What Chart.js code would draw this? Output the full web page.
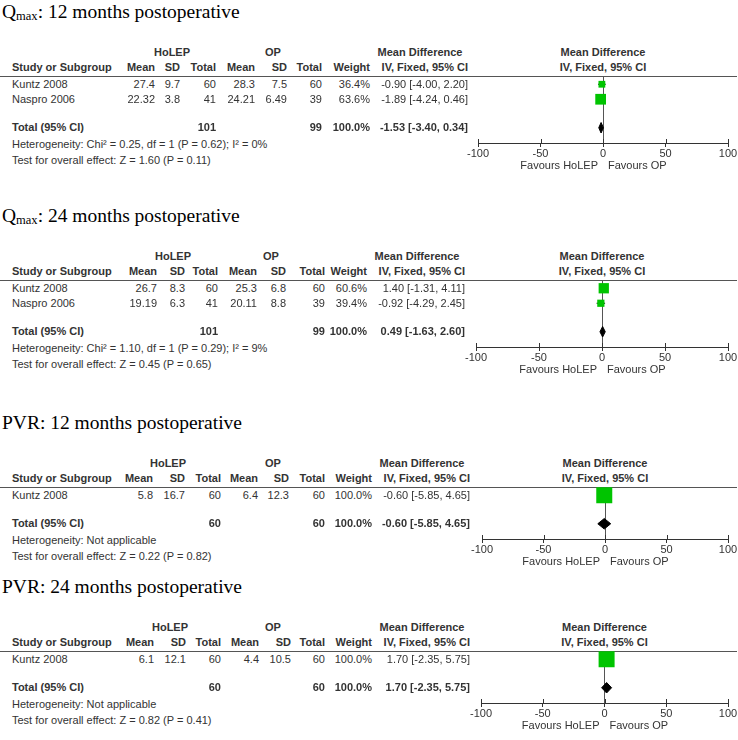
<!DOCTYPE html>
<html>
<head>
<meta charset="utf-8">
<script src="https://cdn.jsdelivr.net/npm/chart.js@4.4.0/dist/chart.umd.min.js"></script>
<style>
body{margin:0;background:#fff;width:738px;height:740px;overflow:hidden;position:relative;font-family:"Liberation Sans",Arial,sans-serif;}
.t{position:absolute;font-size:11px;color:#333;white-space:nowrap;line-height:13px;}
.b{font-weight:bold;}
.title{position:absolute;font-family:"Liberation Serif","Times New Roman",serif;font-size:19.5px;color:#000;white-space:nowrap;line-height:22px;}
.title sub{font-size:12.5px;vertical-align:-2px;line-height:0;}
.hline{position:absolute;left:0;width:737px;height:1px;background:#555;}
canvas{position:absolute;}
</style>
</head>
<body>
<script>
// data
const panelTitles = ['Q<sub>max</sub>: 12 months postoperative', 'Q<sub>max</sub>: 24 months postoperative',
                     'PVR: 12 months postoperative', 'PVR: 24 months postoperative'];
const studyNames = [['Kuntz 2008', 'Naspro 2006'], ['Kuntz 2008', 'Naspro 2006'], ['Kuntz 2008'], ['Kuntz 2008']];
const holepMean = [[27.4, 22.32], [26.7, 19.19], [5.8], [6.1]];
const holepSD = [[9.7, 3.8], [8.3, 6.3], [16.7], [12.1]];
const holepN = [[60, 41], [60, 41], [60], [60]];
const opMean = [[28.3, 24.21], [25.3, 20.11], [6.4], [4.4]];
const opSD = [[7.5, 6.49], [6.8, 8.8], [12.3], [10.5]];
const opN = [[60, 39], [60, 39], [60], [60]];
const weights = [[36.4, 63.6], [60.6, 39.4], [100.0], [100.0]];
const meanDiff = [[-0.90, -1.89], [1.40, -0.92], [-0.60], [1.70]];
const ciLow = [[-4.00, -4.24], [-1.31, -4.29], [-5.85], [-2.35]];
const ciHigh = [[2.20, 0.46], [4.11, 2.45], [4.65], [5.75]];
const totalHolepN = [101, 101, 60, 60];
const totalOpN = [99, 99, 60, 60];
const totalMD = [-1.53, 0.49, -0.60, 1.70];
const totalLow = [-3.40, -1.63, -5.85, -2.35];
const totalHigh = [0.34, 2.60, 4.65, 5.75];
const heterogeneity = ['Heterogeneity: Chi² = 0.25, df = 1 (P = 0.62); I² = 0%',
                       'Heterogeneity: Chi² = 1.10, df = 1 (P = 0.29); I² = 9%',
                       'Heterogeneity: Not applicable', 'Heterogeneity: Not applicable'];
const overallEffect = ['Test for overall effect: Z = 1.60 (P = 0.11)', 'Test for overall effect: Z = 0.45 (P = 0.65)',
                       'Test for overall effect: Z = 0.22 (P = 0.82)', 'Test for overall effect: Z = 0.82 (P = 0.41)'];
const xTicks = [-100, -50, 0, 50, 100];
const favourLabels = ['Favours HoLEP', 'Favours OP'];

// layout
const lineY = [76, 280, 487, 651];
const colRight = [[155, 180, 216, 255, 287, 322, 370], [157, 185, 218, 257, 286, 325, 367],
                  [153, 185, 221, 258, 289, 325, 372], [154, 186, 221, 259, 291, 325, 372]];
const groupCenter = [[172, 273], [173, 271], [168, 273], [170, 273]];
const mdRight = [468, 465, 470, 470];
const plotLeft = [478, 476, 482, 481];
const plotRight = 728;
const ROW = 15;
const GREEN = '#00c400';
const INK = '#333';

function txt(s, x, y, align, bold) {
  const d = document.createElement('div');
  d.className = 't' + (bold ? ' b' : '');
  d.textContent = s;
  d.style.left = x + 'px';
  d.style.top = (y - 6.5) + 'px';
  if (align === 'right') d.style.transform = 'translateX(-100%)';
  if (align === 'center') d.style.transform = 'translateX(-50%)';
  document.body.appendChild(d);
}

function ci(md, lo, hi) {
  return md.toFixed(2) + ' [' + lo.toFixed(2) + ', ' + hi.toFixed(2) + ']';
}

const axisExtras = {
  id: 'axisExtras',
  afterDraw(chart) {
    const {ctx, chartArea} = chart;
    const x = chart.scales.x;
    const y0 = chartArea.bottom;
    ctx.save();
    ctx.strokeStyle = INK;
    ctx.lineWidth = 1;
    x.ticks.forEach(t => {
      const px = Math.round(x.getPixelForValue(t.value)) + 0.5;
      ctx.beginPath();
      ctx.moveTo(px, y0 - 4);
      ctx.lineTo(px, y0);
      ctx.stroke();
    });
    ctx.font = '11px "Liberation Sans", Arial, sans-serif';
    ctx.fillStyle = INK;
    ctx.textBaseline = 'middle';
    const zx = x.getPixelForValue(0);
    ctx.textAlign = 'right';
    ctx.fillText(favourLabels[0], zx - 5, y0 + 23);
    ctx.textAlign = 'left';
    ctx.fillText(favourLabels[1], zx + 5, y0 + 23);
    ctx.restore();
  }
};

for (let p = 0; p < 4; p++) {
  const L = lineY[p];
  const n = studyNames[p].length;
  const rows = studyNames[p].map((_, k) => 0.55 + k);
  const totalRow = 0.55 + n + 0.9;
  const totalY = L + totalRow * ROW;
  const axisY = Math.round(totalY + 15);

  // title
  const t = document.createElement('div');
  t.className = 'title';
  t.innerHTML = panelTitles[p];
  t.style.left = '2px';
  t.style.top = (L - 64 - 11) + 'px';
  document.body.appendChild(t);

  const line = document.createElement('div');
  line.className = 'hline';
  line.style.top = L + 'px';
  document.body.appendChild(line);

  // chart
  const cv = document.createElement('canvas');
  const padL = 20, padR = 12, axisH = 18, padB = 16;
  const W = plotRight - plotLeft[p] + padL + padR;
  const H = (axisY - L) + axisH + padB;
  cv.width = W; cv.height = H;
  cv.style.left = (plotLeft[p] - padL) + 'px';
  cv.style.top = L + 'px';
  cv.style.width = W + 'px';
  cv.style.height = H + 'px';
  document.body.appendChild(cv);

  const datasets = [];
  datasets.push({
    type: 'scatter',
    data: meanDiff[p].map((v, k) => ({x: v, y: rows[k]})),
    pointStyle: 'rect',
    pointRadius: weights[p].map(w => (1.5 + 14.5 * w / 100) / Math.SQRT2),
    backgroundColor: GREEN,
    borderWidth: 0,
    order: 0
  });
  meanDiff[p].forEach((v, k) => {
    datasets.push({
      type: 'line',
      data: [{x: ciLow[p][k], y: rows[k]}, {x: ciHigh[p][k], y: rows[k]}],
      borderColor: '#000', borderWidth: 1, pointRadius: 0, order: 1
    });
  });
  const h = 0.35;
  datasets.push({
    type: 'line',
    data: [{x: totalLow[p], y: totalRow}, {x: totalMD[p], y: totalRow - h},
           {x: totalHigh[p], y: totalRow}, {x: totalMD[p], y: totalRow + h},
           {x: totalLow[p], y: totalRow}],
    borderColor: '#000', backgroundColor: '#000', borderWidth: 1,
    pointRadius: 0, fill: 'shape', tension: 0, order: 2
  });

  const chart = new Chart(cv, {
    data: {datasets},
    options: {
      responsive: false,
      animation: false,
      devicePixelRatio: 1,
      layout: {autoPadding: false, padding: {left: padL, right: padR, top: 0, bottom: padB}},
      plugins: {legend: {display: false}, tooltip: {enabled: false}},
      scales: {
        x: {
          type: 'linear', min: -100, max: 100,
          afterBuildTicks: s => { s.ticks = xTicks.map(v => ({value: v})); },
          afterFit: s => { s.height = axisH; },
          ticks: {color: INK, padding: 0, font: {size: 11, family: '"Liberation Sans", Arial, sans-serif'}},
          grid: {
            color: c => (c.tick && c.tick.value === 0) ? '#555' : 'rgba(0,0,0,0)',
            tickColor: INK, tickLength: 4, drawOnChartArea: true
          },
          border: {display: true, color: INK, width: 1}
        },
        y: {type: 'linear', display: false, reverse: true, min: 0, max: (axisY - L) / ROW}
      }
    },
    plugins: [axisExtras]
  });

  const zeroX = plotLeft[p] - padL + chart.scales.x.getPixelForValue(0);
  const c = colRight[p];

  // headers
  const h1 = L - 24, h2 = L - 8.5;
  txt('HoLEP', groupCenter[p][0], h1, 'center', true);
  txt('OP', groupCenter[p][1], h1, 'center', true);
  txt('Mean Difference', mdRight[p] - 48, h1, 'center', true);
  txt('Mean Difference', zeroX, h1, 'center', true);
  txt('Study or Subgroup', 12, h2, 'left', true);
  ['Mean', 'SD', 'Total', 'Mean', 'SD', 'Total', 'Weight'].forEach((s, i) => txt(s, c[i], h2, 'right', true));
  txt('IV, Fixed, 95% CI', mdRight[p], h2, 'right', true);
  txt('IV, Fixed, 95% CI', zeroX, h2, 'center', true);

  // study rows
  studyNames[p].forEach((s, k) => {
    const y = L + rows[k] * ROW;
    txt(s, 12, y, 'left');
    [holepMean, holepSD, holepN, opMean, opSD, opN].forEach((arr, i) => txt(String(arr[p][k]), c[i], y, 'right'));
    txt(weights[p][k].toFixed(1) + '%', c[6], y, 'right');
    txt(ci(meanDiff[p][k], ciLow[p][k], ciHigh[p][k]), mdRight[p], y, 'right');
  });

  // total rows
  txt('Total (95% CI)', 12, totalY, 'left', true);
  txt(String(totalHolepN[p]), c[2], totalY, 'right', true);
  txt(String(totalOpN[p]), c[5], totalY, 'right', true);
  txt('100.0%', c[6], totalY, 'right', true);
  txt(ci(totalMD[p], totalLow[p], totalHigh[p]), mdRight[p], totalY, 'right', true);
  txt(heterogeneity[p], 12, totalY + 17, 'left');
  txt(overallEffect[p], 12, totalY + 33, 'left');
}
</script>
</body>
</html>
